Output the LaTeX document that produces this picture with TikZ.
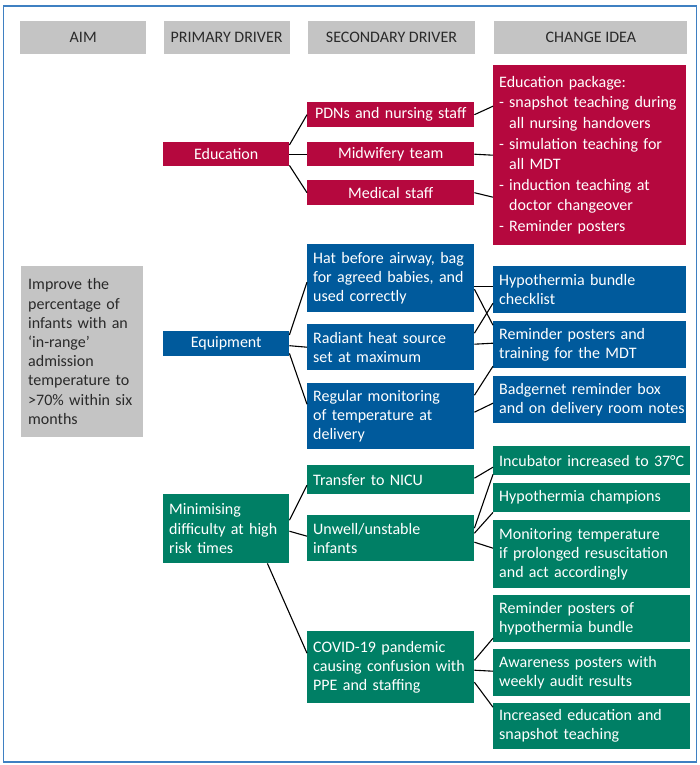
\documentclass[tikz,border=0pt]{standalone}
\usepackage{fontspec}
\setmainfont{Carlito}
\usepackage{tikz}
\usetikzlibrary{positioning}

\definecolor{eduRed}{HTML}{B5083E}
\definecolor{equBlue}{HTML}{005A9C}
\definecolor{riskGreen}{HTML}{007F65}
\definecolor{headGray}{HTML}{C4C4C4}
\definecolor{frameBlue}{HTML}{3F80C2}
\definecolor{textDark}{HTML}{2A2A2A}

\begin{document}
\begin{tikzpicture}[x=1pt, y=-1pt,
  box/.style={rectangle, anchor=north west, inner xsep=6pt, inner ysep=0pt, align=left, text=white, font=\fontsize{16}{19.2}\selectfont},
  head/.style={rectangle, fill=headGray, text=textDark, inner sep=0pt, minimum height=32.5pt, font=\fontsize{16}{19.2}\selectfont},
  edubox/.style={box, fill=eduRed},
  equbox/.style={box, fill=equBlue},
  riskbox/.style={box, fill=riskGreen},
  pricol/.style={text width=114pt},
  seccol/.style={text width=155pt},
  chacol/.style={text width=181pt},
  grncol/.style={text width=185pt},
  link/.style={line width=1.1pt, black},
]
  \useasboundingbox (0,0) rectangle (700,765);
  \draw[frameBlue, line width=1.5pt] (3.5,6) rectangle (696.5,762);

  % headers
  \node[head, minimum width=126pt, anchor=north west] (aimh) at (20,21) {AIM};
  \node[head, minimum width=126pt, right=17pt of aimh] (prih) {PRIMARY DRIVER};
  \node[head, minimum width=167pt, right=18pt of prih] (sech) {SECONDARY DRIVER};
  \node[head, minimum width=193pt, right=19pt of sech] (chah) {CHANGE IDEA};

  % aim
  \node[box, fill=headGray, text=textDark, inner xsep=7pt, text width=108pt, minimum height=171pt] (aim) at (21,266)
    {Improve the\\ percentage of\\ infants with an\\ ‘in-range’\\ admission\\ temperature to\\ >70\% within six\\ months};

  % education
  \node[edubox, pricol, align=center, minimum height=24pt] (edu) at (163,142) {Education};
  \node[edubox, seccol, align=center, minimum height=25pt] (pdn) at (307,102) {PDNs and nursing staff};
  \node[edubox, seccol, align=center, minimum height=24pt] (midw) at (307,142) {Midwifery team};
  \node[edubox, seccol, align=center, minimum height=25pt] (medic) at (307,180) {Medical staff};
  \node[edubox, chacol, minimum height=180pt, font=\fontsize{16}{20.6}\selectfont] (pkg) at (493,65)
    {Education package:\\
     \makebox[10pt][l]{-}\mbox{snapshot teaching during}\\
     \hspace*{10pt}all nursing handovers\\
     \makebox[10pt][l]{-}simulation teaching for\\
     \hspace*{10pt}all MDT\\
     \makebox[10pt][l]{-}induction teaching at\\
     \hspace*{10pt}doctor changeover\\
     \makebox[10pt][l]{-}Reminder posters};

  % equipment
  \node[equbox, pricol, align=center, minimum height=25pt] (equip) at (163,331) {Equipment};
  \node[equbox, seccol, minimum height=68pt] (hat) at (307,244) {Hat before airway, bag\\ for agreed babies, and\\ used correctly};
  \node[equbox, seccol, minimum height=46pt] (heat) at (307,324) {Radiant heat source\\ set at maximum};
  \node[equbox, seccol, minimum height=66pt] (monit) at (307,383) {Regular monitoring\\ of temperature at\\ delivery};
  \node[equbox, chacol, minimum height=47pt] (bundle) at (493,266) {Hypothermia bundle\\ checklist};
  \node[equbox, chacol, minimum height=47pt] (posters) at (493,321) {Reminder posters and\\ training for the MDT};
  \node[equbox, chacol, minimum height=47pt] (badger) at (493,376) {Badgernet reminder box\\ \mbox{and on delivery room notes}};

  % high risk times
  \node[riskbox, pricol, minimum height=69pt] (mini) at (163,494) {Minimising\\ difficulty at high\\ risk times};
  \node[riskbox, seccol, minimum height=29pt] (transfer) at (307,465) {Transfer to NICU};
  \node[riskbox, seccol, minimum height=46pt] (unwell) at (307,515) {Unwell/unstable\\ infants};
  \node[riskbox, seccol, minimum height=72pt] (covid) at (307,631) {COVID-19 pandemic\\ \mbox{causing confusion with}\\ PPE and staffing};
  \node[riskbox, grncol, minimum height=29pt] (incub) at (493,446) {\mbox{Incubator increased to 37°C}};
  \node[riskbox, grncol, minimum height=29pt] (champ) at (493,483) {Hypothermia champions};
  \node[riskbox, grncol, minimum height=68pt] (tempmon) at (493,520) {Monitoring temperature\\ if prolonged resuscitation\\ and act accordingly};
  \node[riskbox, grncol, minimum height=47pt] (bposter) at (493,595) {Reminder posters of\\ hypothermia bundle};
  \node[riskbox, grncol, minimum height=47pt] (audit) at (493,649) {Awareness posters with\\ weekly audit results};
  \node[riskbox, grncol, minimum height=46pt] (snap) at (493,703) {Increased education and\\ snapshot teaching};

  % edges
  \draw[link] ([yshift=-3pt]edu.north east) -- (pdn.west);
  \draw[link] (edu.east) -- (midw.west);
  \draw[link] ([yshift=1pt]edu.south east) -- (medic.west);
  \draw[link] (pdn.east) -- ([yshift=49pt]pkg.west);
  \draw[link] (midw.east) -- (pkg.west);
  \draw[link] (medic.east) -- ([yshift=-42pt]pkg.west);

  \draw[link] ([yshift=-4pt]equip.north east) -- ([yshift=-4pt]hat.west);
  \draw[link] ([yshift=-2pt]equip.east) -- (heat.west);
  \draw[link] ([yshift=3pt]equip.south east) -- ([yshift=12pt]monit.west);
  \draw[link] ([yshift=-8pt]hat.east) -- ([yshift=3.5pt]bundle.west);
  \draw[link] ([yshift=-11pt]hat.east) -- ([yshift=19.5pt]posters.west);
  \draw[link] ([yshift=14pt]heat.east) -- ([yshift=-13.5pt]bundle.west);
  \draw[link] ([yshift=3pt]heat.east) -- ([yshift=1.5pt]posters.west);
  \draw[link] ([yshift=21pt]monit.east) -- ([yshift=-21.5pt]posters.west);
  \draw[link] ([yshift=4pt]monit.east) -- ([yshift=-3.5pt]badger.west);

  \draw[link] ([yshift=8.5pt]mini.east) -- ([yshift=-5.5pt]transfer.west);
  \draw[link] ([yshift=-2.5pt]mini.east) -- ([yshift=2pt]unwell.west);
  \draw[link] ([xshift=-22pt]mini.south east) -- ([yshift=14pt]covid.west);
  \draw[link] ([yshift=1.5pt]transfer.east) -- ([yshift=-6.5pt]incub.west);
  \draw[link] ([yshift=10pt]unwell.east) -- ([yshift=1pt]incub.south west);
  \draw[link] ([yshift=5pt]unwell.east) -- (champ.south west);
  \draw[link] ([yshift=-4pt]unwell.east) -- ([yshift=6pt]tempmon.west);
  \draw[link] ([yshift=7pt]covid.east) -- ([yshift=-19.5pt]bposter.west);
  \draw[link] ([yshift=-3pt]covid.east) -- ([yshift=1.5pt]audit.west);
  \draw[link] ([yshift=-15pt]covid.east) -- ([yshift=19pt]snap.west);
\end{tikzpicture}
\end{document}
